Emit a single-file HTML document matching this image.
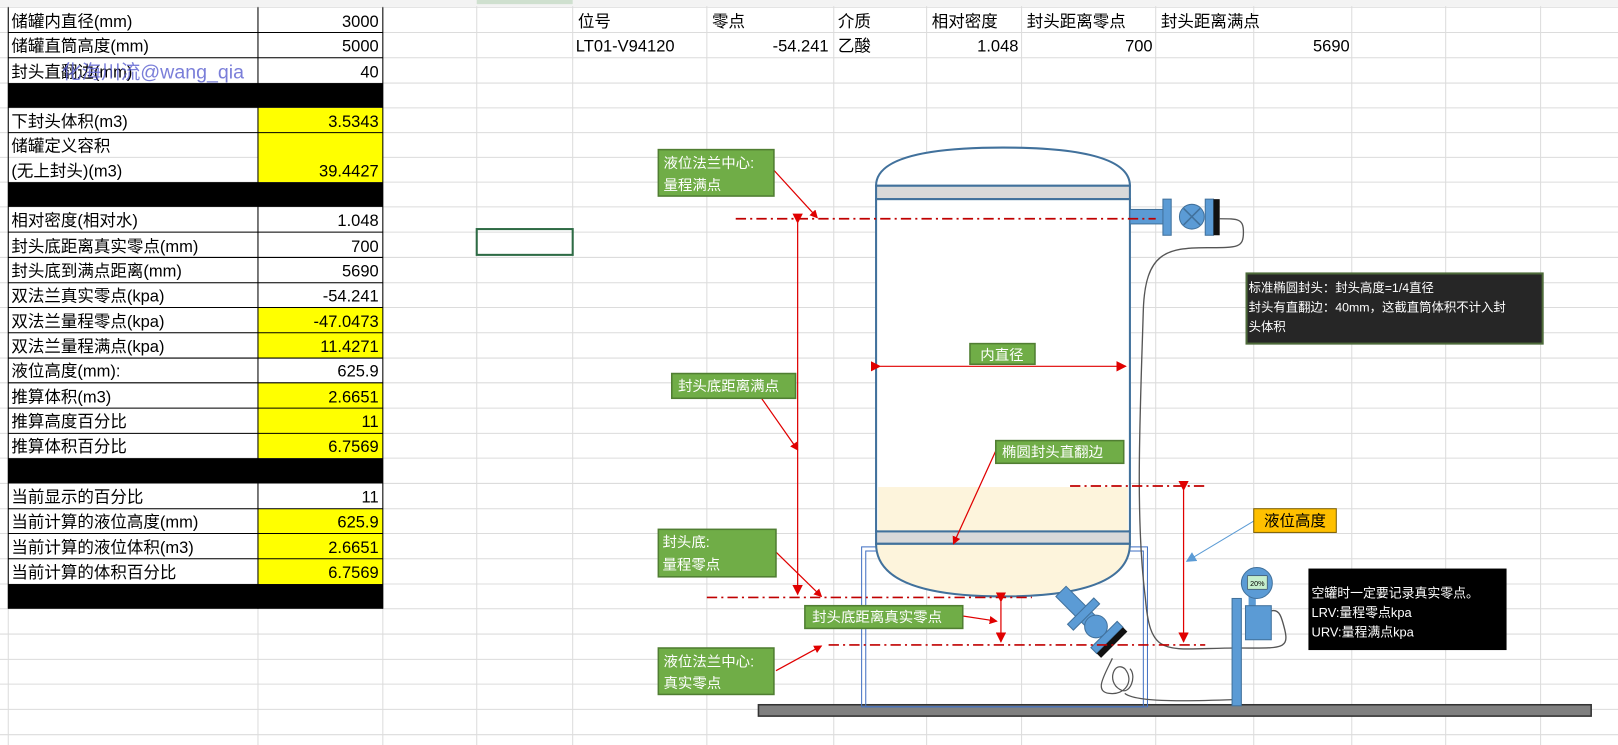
<!DOCTYPE html>
<html><head><meta charset="utf-8"><style>
html,body{margin:0;padding:0;background:#fff;overflow:hidden}
svg{display:block}
text{font-family:"Liberation Sans","Noto Sans CJK SC",sans-serif}
</style></head><body>
<svg width="1618" height="745" viewBox="0 0 1568 722" preserveAspectRatio="none" xmlns="http://www.w3.org/2000/svg">
<defs>
<marker id="ar" markerWidth="8" markerHeight="8" refX="7" refY="4" orient="auto" markerUnits="userSpaceOnUse"><path d="M0,0 L8,4 L0,8 z" fill="#e00000"/></marker>
<marker id="arb" markerWidth="10" markerHeight="10" refX="9" refY="5" orient="auto" markerUnits="userSpaceOnUse"><path d="M0,0 L10,5 L0,10 z" fill="#5b9bd5"/></marker>
<marker id="arr" markerWidth="10" markerHeight="10" refX="9" refY="5" orient="auto" markerUnits="userSpaceOnUse"><path d="M0,0 L10,5 L0,10 z" fill="#e00000"/></marker>
</defs>
<rect width="1568" height="722" fill="#fff"/>
<g stroke="#dcdcdc" stroke-width="1">
<line x1="0" y1="7" x2="1568" y2="7"/>
<line x1="0" y1="31.5" x2="1568" y2="31.5"/><line x1="0" y1="56" x2="1568" y2="56"/><line x1="0" y1="80.5" x2="1568" y2="80.5"/><line x1="0" y1="104.5" x2="1568" y2="104.5"/><line x1="0" y1="128.5" x2="1568" y2="128.5"/><line x1="0" y1="152.5" x2="1568" y2="152.5"/><line x1="0" y1="176.5" x2="1568" y2="176.5"/><line x1="0" y1="200.5" x2="1568" y2="200.5"/><line x1="0" y1="225" x2="1568" y2="225"/><line x1="0" y1="249.5" x2="1568" y2="249.5"/><line x1="0" y1="274" x2="1568" y2="274"/><line x1="0" y1="298" x2="1568" y2="298"/><line x1="0" y1="322.5" x2="1568" y2="322.5"/><line x1="0" y1="347" x2="1568" y2="347"/><line x1="0" y1="371" x2="1568" y2="371"/><line x1="0" y1="395.5" x2="1568" y2="395.5"/><line x1="0" y1="420" x2="1568" y2="420"/><line x1="0" y1="444" x2="1568" y2="444"/><line x1="0" y1="468.5" x2="1568" y2="468.5"/><line x1="0" y1="493" x2="1568" y2="493"/><line x1="0" y1="517" x2="1568" y2="517"/><line x1="0" y1="541.5" x2="1568" y2="541.5"/><line x1="0" y1="566" x2="1568" y2="566"/><line x1="0" y1="590" x2="1568" y2="590"/><line x1="0" y1="614.5" x2="1568" y2="614.5"/><line x1="0" y1="639" x2="1568" y2="639"/><line x1="0" y1="663" x2="1568" y2="663"/><line x1="0" y1="687.5" x2="1568" y2="687.5"/><line x1="0" y1="712" x2="1568" y2="712"/>
<line x1="8" y1="0" x2="8" y2="722"/><line x1="250" y1="0" x2="250" y2="722"/><line x1="371" y1="0" x2="371" y2="722"/><line x1="462" y1="0" x2="462" y2="722"/><line x1="555" y1="0" x2="555" y2="722"/><line x1="685" y1="0" x2="685" y2="722"/><line x1="808" y1="0" x2="808" y2="722"/><line x1="898" y1="0" x2="898" y2="722"/><line x1="990" y1="0" x2="990" y2="722"/><line x1="1120" y1="0" x2="1120" y2="722"/><line x1="1215" y1="0" x2="1215" y2="722"/><line x1="1310" y1="0" x2="1310" y2="722"/><line x1="1401" y1="0" x2="1401" y2="722"/><line x1="1493" y1="0" x2="1493" y2="722"/>
</g>
<rect x="0" y="0" width="1568" height="6" fill="#f3f3f3"/>
<rect x="462" y="0" width="93" height="4" fill="#cfe0cf"/>
<g>
<rect x="250" y="104.5" width="121" height="72" fill="#ffff00"/>
<rect x="250" y="298" width="121" height="49" fill="#ffff00"/>
<rect x="250" y="371" width="121" height="73" fill="#ffff00"/>
<rect x="250" y="493" width="121" height="73" fill="#ffff00"/>
<rect x="8" y="80.5" width="363" height="24" fill="#000"/>
<rect x="8" y="176.5" width="363" height="24" fill="#000"/>
<rect x="8" y="444" width="363" height="24.5" fill="#000"/>
<rect x="8" y="566" width="363" height="24" fill="#000"/>
<g stroke="#000" stroke-width="1">
<line x1="8" y1="31.5" x2="371" y2="31.5"/><line x1="8" y1="56" x2="371" y2="56"/><line x1="8" y1="128.5" x2="371" y2="128.5"/><line x1="8" y1="225" x2="371" y2="225"/><line x1="8" y1="249.5" x2="371" y2="249.5"/><line x1="8" y1="274" x2="371" y2="274"/><line x1="8" y1="298" x2="371" y2="298"/><line x1="8" y1="322.5" x2="371" y2="322.5"/><line x1="8" y1="347" x2="371" y2="347"/><line x1="8" y1="371" x2="371" y2="371"/><line x1="8" y1="395.5" x2="371" y2="395.5"/><line x1="8" y1="420" x2="371" y2="420"/><line x1="8" y1="493" x2="371" y2="493"/><line x1="8" y1="517" x2="371" y2="517"/><line x1="8" y1="541.5" x2="371" y2="541.5"/>
<line x1="250" y1="7" x2="250" y2="590"/><line x1="371" y1="7" x2="371" y2="590"/><line x1="8" y1="7" x2="8" y2="590"/>
</g>
<g font-size="16" fill="#000">
<text x="11" y="26">储罐内直径(mm)</text><text x="367" y="26" text-anchor="end">3000</text>
<text x="11" y="50">储罐直筒高度(mm)</text><text x="367" y="50" text-anchor="end">5000</text>
<text x="11" y="75">封头直翻边(mm)</text><text x="367" y="75" text-anchor="end">40</text>
<text x="11" y="123">下封头体积(m3)</text><text x="367" y="123" text-anchor="end">3.5343</text>
<text x="11" y="147">储罐定义容积</text>
<text x="11" y="171">(无上封头)(m3)</text><text x="367" y="171" text-anchor="end">39.4427</text>
<text x="11" y="219">相对密度(相对水)</text><text x="367" y="219" text-anchor="end">1.048</text>
<text x="11" y="244">封头底距离真实零点(mm)</text><text x="367" y="244" text-anchor="end">700</text>
<text x="11" y="268">封头底到满点距离(mm)</text><text x="367" y="268" text-anchor="end">5690</text>
<text x="11" y="292">双法兰真实零点(kpa)</text><text x="367" y="292" text-anchor="end">-54.241</text>
<text x="11" y="317">双法兰量程零点(kpa)</text><text x="367" y="317" text-anchor="end">-47.0473</text>
<text x="11" y="341">双法兰量程满点(kpa)</text><text x="367" y="341" text-anchor="end">11.4271</text>
<text x="11" y="365">液位高度(mm):</text><text x="367" y="365" text-anchor="end">625.9</text>
<text x="11" y="390">推算体积(m3)</text><text x="367" y="390" text-anchor="end">2.6651</text>
<text x="11" y="414">推算高度百分比</text><text x="367" y="414" text-anchor="end">11</text>
<text x="11" y="438">推算体积百分比</text><text x="367" y="438" text-anchor="end">6.7569</text>
<text x="11" y="487">当前显示的百分比</text><text x="367" y="487" text-anchor="end">11</text>
<text x="11" y="511">当前计算的液位高度(mm)</text><text x="367" y="511" text-anchor="end">625.9</text>
<text x="11" y="536">当前计算的液位体积(m3)</text><text x="367" y="536" text-anchor="end">2.6651</text>
<text x="11" y="560">当前计算的体积百分比</text><text x="367" y="560" text-anchor="end">6.7569</text>
</g>
<text x="60" y="76" font-size="19" fill="#5a5fd0" opacity="0.8">化海川流@wang_qia</text>
</g>
<rect x="462" y="222" width="93" height="25" fill="none" stroke="#2e6b45" stroke-width="2"/>
<g font-size="16" fill="#000">
<text x="560" y="26">位号</text><text x="690" y="26">零点</text><text x="812" y="26">介质</text><text x="903" y="26">相对密度</text><text x="995" y="26">封头距离零点</text><text x="1125" y="26">封头距离满点</text>
<text x="558" y="50">LT01-V94120</text><text x="803" y="50" text-anchor="end">-54.241</text><text x="812" y="50">乙酸</text><text x="987" y="50" text-anchor="end">1.048</text><text x="1117" y="50" text-anchor="end">700</text><text x="1308" y="50" text-anchor="end">5690</text>
</g>
<rect x="735" y="683" width="807" height="11" fill="#808080" stroke="#333" stroke-width="1.5"/>
<rect x="835" y="530" width="277" height="155" fill="none" stroke="#4472c4" stroke-width="1"/>
<rect x="839" y="534" width="269" height="151" fill="none" stroke="#4472c4" stroke-width="1"/>
<path d="M849,180 Q849,143 972,143 Q1095,143 1095,180 Z" fill="#fff" stroke="#41719c" stroke-width="2"/>
<rect x="849" y="180" width="246" height="13" fill="#d9d9d9" stroke="#41719c" stroke-width="2"/>
<rect x="849" y="193" width="246" height="322" fill="#fff" stroke="#41719c" stroke-width="2"/>
<rect x="851" y="472" width="242" height="43" fill="#fdf4dc"/>
<rect x="849" y="515" width="246" height="12" fill="#d9d9d9" stroke="#41719c" stroke-width="2"/>
<path d="M849,527 Q849,578 972,578 Q1095,578 1095,527 Z" fill="#fdf4dc" stroke="#41719c" stroke-width="2"/>
<rect x="1095" y="203" width="33" height="14" fill="#5b9bd5" stroke="#41719c"/>
<rect x="1127" y="193" width="8" height="35" fill="#5b9bd5" stroke="#41719c"/>
<circle cx="1155" cy="210" r="12" fill="#5b9bd5" stroke="#41719c"/>
<path d="M1147,202 L1163,218 M1163,202 L1147,218" stroke="#41719c" stroke-width="1.5"/>
<rect x="1168" y="193" width="8" height="35" fill="#5b9bd5" stroke="#41719c"/>
<rect x="1176" y="193" width="6" height="35" fill="#111"/>
<g transform="translate(1060,605) rotate(45)">
<rect x="-45" y="-7" width="40" height="14" fill="#5b9bd5" stroke="#41719c"/>
<rect x="-18" y="-18" width="8" height="36" fill="#5b9bd5" stroke="#41719c"/>
<circle cx="3" cy="0" r="11" fill="#5b9bd5" stroke="#41719c"/>
<rect x="14" y="-18" width="8" height="36" fill="#5b9bd5" stroke="#41719c"/>
<rect x="22" y="-18" width="6" height="36" fill="#111"/>
</g>
<path d="M1182,212 C1200,212 1205,212 1205,225 C1205,240 1200,240 1170,240 C1130,240 1110,245 1108,300 C1105,400 1100,500 1110,580 C1115,640 1130,628 1200,628 C1240,628 1250,630 1245,610 C1242,598 1240,590 1232,592" fill="none" stroke="#555" stroke-width="1.3"/>
<path d="M1078,638 C1070,655 1060,670 1075,672 C1090,674 1100,660 1090,648 C1080,640 1072,660 1085,668 C1095,675 1102,655 1095,648 M1090,672 C1100,680 1140,680 1196,678" fill="none" stroke="#555" stroke-width="1.2"/>
<rect x="1194" y="580" width="9" height="104" fill="#5b9bd5" stroke="#41719c"/>
<rect x="1210" y="578" width="7" height="10" fill="#5b9bd5"/>
<rect x="1207" y="587" width="25" height="33" fill="#5b9bd5" stroke="#41719c"/>
<circle cx="1218" cy="565" r="15" fill="#5b9bd5" stroke="#41719c"/>
<rect x="1209" y="558" width="19" height="13" fill="#c6efce" stroke="#333" stroke-width="0.5"/>
<text x="1218.5" y="568" font-size="7" text-anchor="middle">20%</text>
<g stroke="#c00000" stroke-width="1.6" stroke-dasharray="10,4,2,4" fill="none">
<line x1="713" y1="212" x2="1120" y2="212"/>
<line x1="685" y1="579" x2="1000" y2="579"/>
<line x1="803" y1="625" x2="1168" y2="625"/>
<line x1="1037" y1="471" x2="1168" y2="471"/>
</g>
<g stroke="#e00000" stroke-width="1.2" fill="none">
<line x1="773" y1="216" x2="773" y2="576" marker-start="url(#arr)" marker-end="url(#arr)"/>
<line x1="970" y1="583" x2="970" y2="622" marker-start="url(#arr)" marker-end="url(#arr)"/>
<line x1="1147" y1="475" x2="1147" y2="622" marker-start="url(#arr)" marker-end="url(#arr)"/>
<line x1="853" y1="355" x2="1091" y2="355" marker-start="url(#arr)" marker-end="url(#arr)"/>
<line x1="750" y1="165" x2="792" y2="211" marker-end="url(#ar)"/>
<line x1="738" y1="386" x2="773" y2="436" marker-end="url(#ar)"/>
<line x1="752" y1="535" x2="796" y2="578" marker-end="url(#ar)"/>
<line x1="933" y1="597" x2="966" y2="602" marker-end="url(#ar)"/>
<line x1="752" y1="650" x2="796" y2="626" marker-end="url(#ar)"/>
<line x1="965" y1="437" x2="924" y2="527" marker-end="url(#ar)"/>
</g>
<line x1="1215" y1="505" x2="1150" y2="544" stroke="#5b9bd5" stroke-width="1" marker-end="url(#arb)"/>
<g fill="#70ad47" stroke="#507e32" stroke-width="1.5">
<rect x="638" y="145" width="112" height="45"/>
<rect x="651" y="362" width="120" height="24"/>
<rect x="965" y="427" width="124" height="22"/>
<rect x="638" y="513" width="114" height="46"/>
<rect x="780" y="587" width="153" height="22"/>
<rect x="638" y="628" width="112" height="45"/>
<rect x="940" y="333" width="63" height="20"/>
</g>
<g fill="#fff" font-size="14">
<text x="643" y="163">液位法兰中心:</text><text x="643" y="184">量程满点</text>
<text x="657" y="379">封头底距离满点</text>
<text x="971" y="443">椭圆封头直翻边</text>
<text x="642" y="530">封头底:</text><text x="642" y="552">量程零点</text>
<text x="787" y="603">封头底距离真实零点</text>
<text x="643" y="646">液位法兰中心:</text><text x="643" y="667">真实零点</text>
<text x="950" y="349">内直径</text>
</g>
<rect x="1208" y="265" width="287" height="68" fill="#262626" stroke="#4e6b3a" stroke-width="2"/>
<g fill="#fff" font-size="12"><text x="1210" y="283">标准椭圆封头：封头高度=1/4直径</text><text x="1210" y="302">封头有直翻边：40mm，这截直筒体积不计入封</text><text x="1210" y="321">头体积</text></g>
<rect x="1215" y="493" width="80" height="23" fill="#ffc000" stroke="#7f6000" stroke-width="1"/>
<text x="1225" y="510" font-size="15" fill="#000">液位高度</text>
<rect x="1268" y="551" width="192" height="79" fill="#000"/>
<g fill="#fff" font-size="12.5"><text x="1271" y="579">空罐时一定要记录真实零点。</text><text x="1271" y="598">LRV:量程零点kpa</text><text x="1271" y="617">URV:量程满点kpa</text></g>
</svg>
</body></html>
